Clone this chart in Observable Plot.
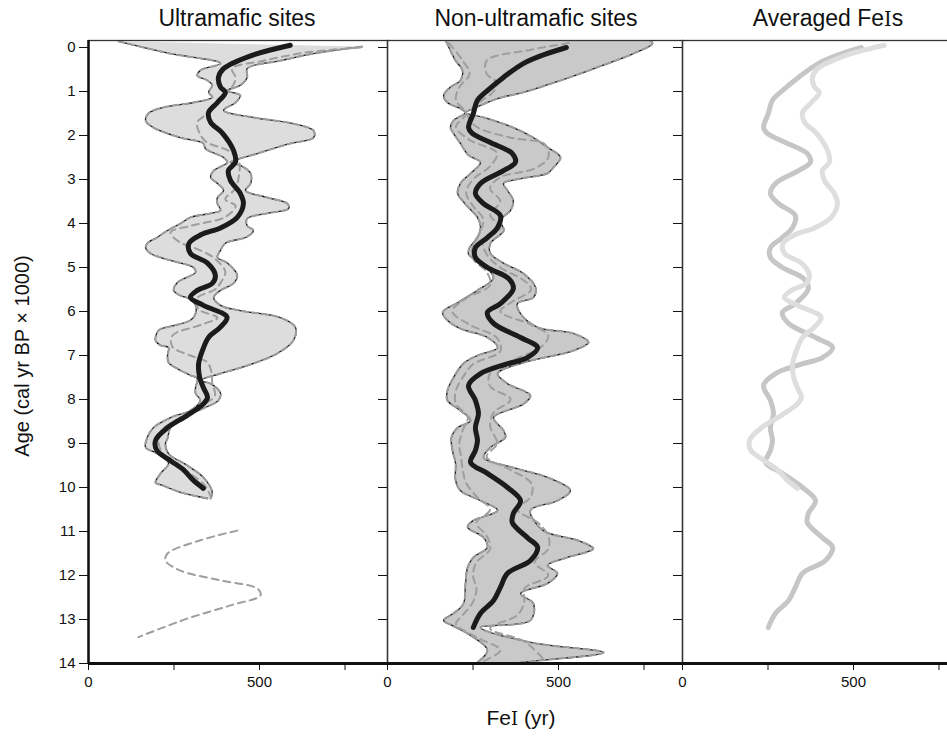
<!DOCTYPE html>
<html><head><meta charset="utf-8">
<script src="https://cdn.jsdelivr.net/npm/d3@7"></script>
<script src="https://cdn.jsdelivr.net/npm/@observablehq/plot@0.6"></script>
<style>
body{margin:0;background:#fff;}
#wrap{position:relative;width:947px;height:740px;overflow:hidden;font-family:"Liberation Sans",Arial,sans-serif;color:#111;}
#wrap svg{position:absolute;top:0;overflow:visible;}
.ttl{position:absolute;top:5px;font-size:23px;transform:translateX(-50%);white-space:nowrap;}
.ser{font-family:"DejaVu Serif","Liberation Serif",serif;font-size:0.85em;}
#xl{position:absolute;top:706px;left:521px;transform:translateX(-50%);font-size:21px;white-space:nowrap;}
#yl{position:absolute;left:22px;top:356px;transform:translate(-50%,-50%) rotate(-90deg);font-size:20px;white-space:nowrap;}
</style></head>
<body><div id="wrap">
<div class="ttl" style="left:237px">Ultramafic sites</div>
<div class="ttl" style="left:536px">Non-ultramafic sites</div>
<div class="ttl" style="left:828px">Averaged <span>Fe<span class="ser">I</span>s</span></div>
<div id="xl">Fe<span class="ser">I</span> (yr)</div>
<div id="yl">Age (cal yr BP × 1000)</div>
</div>
<script>
// ---- data: [age (cal yr BP ×1000), FeI (yr)] ----
const yTicks = [0,1,2,3,4,5,6,7,8,9,10,11,12,13,14];
const xTicks = [0,250,500,750];
const xLabels = [0,500];

const ultraMean = [[-0.05,590],[0.2,470],[0.48,395],[0.68,380],[0.9,386],[1.02,400],[1.25,377],[1.48,351],[1.7,357],[1.95,392],[2.34,424],[2.6,430],[2.8,409],[3.02,415],[3.32,444],[3.55,453],[3.86,435],[4.1,386],[4.25,330],[4.45,294],[4.68,298],[4.9,348],[5.18,371],[5.36,362],[5.52,318],[5.68,298],[5.86,336],[6.13,405],[6.36,385],[6.59,351],[6.89,333],[7.19,322],[7.5,325],[7.73,336],[7.95,348],[8.1,336],[8.36,289],[8.64,231],[8.93,196],[9.16,200],[9.39,240],[9.6,278],[9.84,307],[10.02,336]];

const ultraLo = [[-0.14,88],[0.14,240],[0.36,386],[0.52,327],[0.64,318],[0.75,348],[0.86,362],[1.02,351],[1.13,362],[1.25,307],[1.36,219],[1.5,175],[1.66,167],[1.82,190],[2.05,269],[2.18,336],[2.3,342],[2.5,395],[2.61,406],[2.8,366],[2.95,357],[3.09,377],[3.25,395],[3.41,377],[3.55,377],[3.7,386],[3.77,357],[3.86,298],[4.0,269],[4.16,231],[4.32,200],[4.45,172],[4.55,167],[4.68,181],[4.84,240],[5.0,307],[5.11,313],[5.34,260],[5.52,249],[5.64,269],[5.72,298],[5.86,313],[6.05,313],[6.2,298],[6.32,249],[6.43,205],[6.66,196],[6.77,211],[6.82,234],[7.0,231],[7.16,234],[7.3,260],[7.45,298],[7.52,318],[7.73,313],[7.86,313],[8.02,327],[8.25,298],[8.41,240],[8.64,190],[8.86,172],[9.09,167],[9.23,202],[9.45,234],[9.68,211],[9.89,196],[9.95,216],[10.11,269],[10.25,348]];

const ultraHi = [[-0.02,800],[0.14,658],[0.3,561],[0.48,464],[0.68,464],[0.86,444],[0.98,406],[1.09,444],[1.25,430],[1.43,395],[1.59,482],[1.73,599],[1.89,658],[2.05,658],[2.18,591],[2.41,494],[2.61,415],[2.68,444],[2.86,474],[3.09,474],[3.25,459],[3.41,523],[3.55,582],[3.66,585],[3.77,523],[3.89,464],[4.05,464],[4.16,482],[4.3,464],[4.45,400],[4.61,386],[4.77,377],[4.9,406],[5.18,435],[5.36,424],[5.52,386],[5.68,366],[5.86,386],[5.98,444],[6.14,561],[6.36,605],[6.66,599],[6.95,553],[7.23,464],[7.41,386],[7.57,327],[7.64,357],[7.86,386],[8.02,380],[8.2,336],[8.36,289],[8.64,240],[8.89,231],[9.0,225],[9.23,234],[9.5,289],[9.77,336],[10.11,362],[10.25,357]];

const ultraMid = [[0.0,795],[0.11,640],[0.3,512],[0.48,420],[0.7,430],[0.95,415],[1.2,380],[1.5,348],[1.7,318],[1.95,325],[2.15,345],[2.35,410],[2.6,440],[2.9,440],[3.2,430],[3.45,400],[3.6,430],[3.85,400],[4.05,300],[4.2,240],[4.4,262],[4.61,327],[4.8,370],[5.1,400],[5.35,386],[5.5,370],[5.7,318],[5.95,322],[6.14,377],[6.3,330],[6.55,245],[6.8,245],[7.0,298],[7.16,348],[7.4,360],[7.64,362],[7.9,370],[8.1,340],[8.4,270],[8.7,215],[8.95,205],[9.2,215],[9.45,250],[9.7,300],[9.95,340],[10.2,357]];

const ultraLate = [[10.98,435],[11.2,327],[11.5,231],[11.66,225],[11.89,269],[12.11,386],[12.3,494],[12.45,503],[12.68,415],[12.98,289],[13.4,146]];

const nonMean = [[0.0,523],[0.15,462],[0.36,398],[0.68,339],[0.98,292],[1.2,263],[1.5,251],[1.82,237],[1.95,248],[2.16,301],[2.41,365],[2.61,374],[2.8,339],[3.09,272],[3.32,257],[3.55,281],[3.82,330],[4.09,322],[4.32,292],[4.55,257],[4.77,257],[5.0,292],[5.25,354],[5.48,368],[5.82,330],[6.02,292],[6.27,310],[6.59,389],[6.82,439],[7.05,409],[7.2,345],[7.41,272],[7.68,237],[8.02,257],[8.32,266],[8.64,257],[8.93,263],[9.16,257],[9.43,243],[9.68,292],[10.0,351],[10.3,389],[10.59,368],[10.8,365],[11.14,409],[11.36,439],[11.66,418],[11.95,351],[12.27,330],[12.57,310],[12.86,272],[13.18,251]];

const nonLo = [[-0.16,170],[0.07,184],[0.3,199],[0.52,219],[0.75,213],[0.9,184],[1.09,164],[1.25,175],[1.39,213],[1.48,228],[1.66,193],[1.82,184],[1.95,193],[2.18,213],[2.45,237],[2.61,272],[2.86,243],[3.09,213],[3.32,205],[3.48,219],[3.64,237],[3.86,263],[4.09,272],[4.32,263],[4.55,240],[4.7,237],[4.9,272],[5.23,310],[5.52,263],[5.8,205],[6.02,161],[6.2,175],[6.39,213],[6.59,292],[6.82,322],[7.0,263],[7.18,222],[7.5,193],[7.8,175],[8.02,175],[8.25,213],[8.48,243],[8.64,205],[8.86,187],[9.16,190],[9.45,199],[9.84,199],[10.07,213],[10.3,272],[10.52,322],[10.75,251],[10.9,234],[11.14,281],[11.36,292],[11.59,251],[11.82,234],[12.18,228],[12.64,222],[12.86,193],[13.02,164],[13.14,190],[13.32,234],[13.7,292],[14.05,251]];

const nonHi = [[-0.16,769],[-0.09,775],[0.14,719],[0.45,614],[0.75,506],[1.02,398],[1.16,322],[1.39,251],[1.48,228],[1.59,281],[1.82,368],[2.05,427],[2.27,468],[2.5,506],[2.73,485],[2.86,468],[2.98,389],[3.09,339],[3.25,351],[3.48,368],[3.7,360],[3.93,330],[4.16,340],[4.45,301],[4.68,301],[4.9,339],[5.14,398],[5.45,433],[5.68,427],[5.82,380],[6.05,389],[6.36,439],[6.5,544],[6.7,588],[6.89,544],[7.16,398],[7.41,322],[7.64,351],[7.91,418],[8.1,398],[8.41,310],[8.7,339],[8.86,345],[9.09,301],[9.32,281],[9.55,368],[9.77,468],[10.07,535],[10.3,497],[10.52,418],[10.98,456],[11.2,556],[11.39,602],[11.59,526],[11.77,468],[11.95,497],[12.18,468],[12.41,389],[12.64,427],[13.02,418],[13.18,272],[13.52,418],[13.75,632],[13.93,447],[14.05,300]];

const nonDashA = [[-0.1,530],[0.05,420],[0.3,290],[0.6,290],[0.8,320],[1.0,310],[1.3,260],[1.55,235],[1.8,260],[2.05,360],[2.2,460],[2.5,470],[2.75,430],[2.95,330],[3.2,300],[3.5,330],[3.8,300],[4.1,330],[4.4,280],[4.7,290],[5.0,330],[5.3,400],[5.5,420],[5.8,360],[6.0,330],[6.3,420],[6.55,470],[6.8,450],[7.1,370],[7.4,300],[7.7,300],[8.0,360],[8.3,310],[8.6,300],[9.0,320],[9.3,290],[9.6,360],[9.9,420],[10.2,420],[10.5,380],[10.8,440],[11.1,470],[11.4,470],[11.7,430],[12.0,470],[12.3,400],[12.6,400],[12.9,380],[13.2,300],[13.5,400],[13.9,456]];

const nonDashB = [[-0.1,180],[0.3,220],[0.6,240],[0.9,210],[1.2,200],[1.5,230],[1.8,200],[2.1,240],[2.4,320],[2.7,300],[3.0,250],[3.3,230],[3.6,250],[3.9,280],[4.2,270],[4.5,250],[4.8,250],[5.1,290],[5.4,300],[5.7,230],[6.0,190],[6.3,240],[6.6,320],[6.9,330],[7.2,250],[7.5,220],[7.8,200],[8.1,200],[8.4,235],[8.7,220],[9.0,210],[9.3,215],[9.6,220],[9.9,230],[10.2,260],[10.5,300],[10.8,260],[11.1,290],[11.4,300],[11.7,260],[12.0,250],[12.3,260],[12.6,250],[12.9,220],[13.1,200],[13.4,260],[13.7,330],[13.95,280]];

// ---- helpers ----
const X = d => d[1], Y = d => d[0];
const PX = 0.342; // px per FeI year
const ink = "#1b1b1b";

function envelope(lo, hi, fill) {
  const poly = lo.concat(hi.slice().reverse());
  return [
    Plot.line(poly, {x: X, y: Y, fill, stroke: "none", curve: "catmull-rom", clip: true}),
    Plot.line(lo, {x: X, y: Y, stroke: ink, strokeWidth: 1.3, curve: "catmull-rom", clip: true}),
    Plot.line(hi, {x: X, y: Y, stroke: ink, strokeWidth: 1.3, curve: "catmull-rom", clip: true}),
    Plot.line(lo, {x: X, y: Y, stroke: "#9c9c9c", strokeWidth: 2, strokeDasharray: "6,4", curve: "catmull-rom", clip: true}),
    Plot.line(hi, {x: X, y: Y, stroke: "#9c9c9c", strokeWidth: 2, strokeDasharray: "6,4", curve: "catmull-rom", clip: true})
  ];
}
function dashed(data) {
  return Plot.line(data, {x: X, y: Y, stroke: "#9e9e9e", strokeWidth: 2, strokeDasharray: "7,5", curve: "catmull-rom", clip: true});
}
function mean(data, stroke) {
  return Plot.line(data, {x: X, y: Y, stroke, strokeWidth: 5, curve: "catmull-rom", clip: true});
}
function frameMarks() {
  return [
    Plot.frame({stroke: "#333", strokeWidth: 1.3}),
    Plot.ruleY([14], {stroke: "#111", strokeWidth: 3}),
    Plot.axisX({ticks: xTicks, tickSize: 7, tickPadding: 6, fontSize: 15,
      tickFormat: d => xLabels.includes(d) ? String(d) : "", label: null})
  ];
}
function panel(left, width, mL, mR, marks, showY) {
  const frameW = width - mL - mR;
  const svg = Plot.plot({
    width, height: 740, marginLeft: mL, marginRight: mR, marginTop: 40, marginBottom: 77,
    x: {domain: [0, frameW / PX]},
    y: {domain: [-0.159, 14], reverse: true, ...(showY ? {} : {axis: null})},
    style: {fontFamily: "'Liberation Sans', Arial, sans-serif", fontSize: "15px", color: "#111", background: "transparent", overflow: "visible"},
    marks
  });
  svg.style.left = left + "px";
  document.getElementById("wrap").appendChild(svg);
}

// Panel 1: Ultramafic sites
panel(0, 388, 88, 1, [
  ...envelope(ultraLo, ultraHi, "#dddddd"),
  dashed(ultraMid),
  dashed(ultraLate),
  mean(ultraMean, ink),
  ...frameMarks(),
  Plot.ruleX([0], {stroke: "#111", strokeWidth: 2.5}),
  Plot.axisY({anchor: "left", ticks: yTicks, tickSize: 9, tickPadding: 4, fontSize: 15, label: null}),
  Plot.axisY({anchor: "right", ticks: yTicks, tickSize: 10, dx: -10, tickFormat: () => "", label: null})
], true);

// Panel 2: Non-ultramafic sites
panel(386, 297, 1, 1, [
  ...envelope(nonLo, nonHi, "#c9c9c9"),
  dashed(nonDashA),
  dashed(nonDashB),
  mean(nonMean, ink),
  ...frameMarks(),
  Plot.axisY({anchor: "right", ticks: yTicks, tickSize: 10, dx: -10, tickFormat: () => "", label: null})
], true);

// Panel 3: Averaged FeIs
panel(681, 272, 1, 0, [
  mean(nonMean, "#c6c6c6"),
  mean(ultraMean, "#dedede"),
  ...frameMarks()
], false);
</script>
</body></html>
